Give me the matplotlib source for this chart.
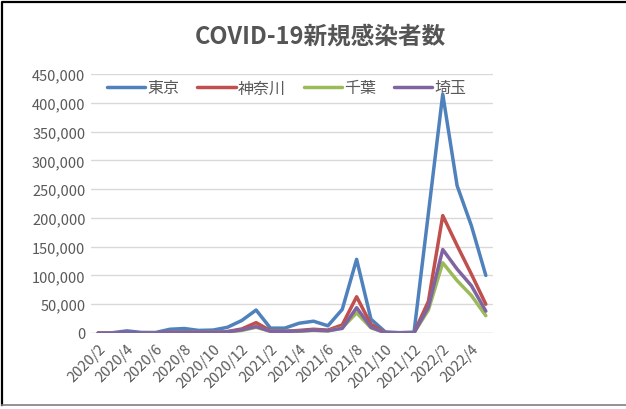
import matplotlib
matplotlib.use("Agg")
import matplotlib.pyplot as plt
from matplotlib.lines import Line2D

plt.rcParams['font.family'] = ['Noto Sans CJK JP', 'DejaVu Sans']

months = ["2020/2", "2020/3", "2020/4", "2020/5", "2020/6", "2020/7", "2020/8",
          "2020/9", "2020/10", "2020/11", "2020/12", "2021/1", "2021/2", "2021/3",
          "2021/4", "2021/5", "2021/6", "2021/7", "2021/8", "2021/9", "2021/10",
          "2021/11", "2021/12", "2022/1", "2022/2", "2022/3", "2022/4", "2022/5"]

tokyo = [40, 500, 3700, 1000, 900, 6500, 7800, 4500, 5100, 9900, 21700, 39900,
         8400, 8500, 17000, 20500, 12500, 41000, 128000, 24000, 1800, 600,
         1500, 208000, 415000, 256000, 186000, 100000]
kanagawa = [10, 150, 900, 300, 150, 1500, 2000, 1300, 1200, 2500, 7000, 18000,
            4000, 3000, 4500, 6500, 5000, 14000, 63000, 15000, 700, 200,
            500, 55000, 204000, 152000, 102000, 50000]
chiba = [10, 100, 600, 200, 100, 800, 1300, 900, 900, 1600, 4500, 10000,
         3000, 2500, 3000, 4500, 3500, 9000, 35000, 9000, 400, 100,
         300, 40000, 122000, 91000, 65000, 30000]
saitama = [10, 100, 800, 200, 150, 1200, 1600, 1100, 1000, 2000, 5500, 11000,
           3000, 2800, 3500, 5000, 4000, 8000, 44000, 10000, 500, 150,
           400, 45000, 145000, 111000, 82000, 38000]

series = [("東京", tokyo, "#4F81BD"), ("神奈川", kanagawa, "#C0504D"),
          ("千葉", chiba, "#9BBB59"), ("埼玉", saitama, "#8064A2")]

fig = plt.figure(figsize=(6.26, 4.10), dpi=100)
ax = fig.add_axes([91 / 626, 1 - 334 / 410, (493 - 91) / 626, (334 - 75) / 410])

x = range(len(months))
for name, vals, col in series:
    ax.plot(x, vals, color=col, lw=2.5, label=name, solid_capstyle='round')

ax.set_xlim(-0.5, len(months) - 0.5)
ax.set_ylim(0, 450000)
ax.set_yticks(range(0, 450001, 50000))
ax.set_yticklabels([f"{v:,}" for v in range(0, 450001, 50000)])
ax.set_xticks(list(x)[::2])
ax.set_xticklabels(months[::2], rotation=45, ha='right', rotation_mode='anchor')
ax.tick_params(length=0, labelsize=10.5, colors='#595959', pad=4)
ax.tick_params(axis='x', pad=6)
ax.grid(axis='y', color='#D9D9D9', lw=1)
ax.set_axisbelow(True)
for s in ax.spines.values():
    s.set_visible(False)
ax.axhline(0, color='#D9D9D9', lw=1, zorder=0)

fig.legend(ncol=4, frameon=False, loc='center left',
           bbox_to_anchor=(107 / 626, 1 - 89 / 410), borderpad=0,
           borderaxespad=0, handlelength=2.4, handletextpad=0.15,
           columnspacing=1.1, fontsize=11.5, labelcolor='#595959')

fig.text(320 / 626, 1 - 37 / 410, "COVID-19新規感染者数", ha='center', va='center',
         fontsize=17, fontweight='bold', color='#555555')

# chart frame: dark top/left, grey bottom
fig.add_artist(Line2D([2 / 626, 2 / 626, 1], [4 / 410, 1 - 3 / 410, 1 - 3 / 410],
                      transform=fig.transFigure, color='black', lw=1.6))
fig.add_artist(Line2D([2 / 626, 1], [4 / 410, 4 / 410],
                      transform=fig.transFigure, color='#808080', lw=1.2))

fig.savefig("out.png", dpi=100)
